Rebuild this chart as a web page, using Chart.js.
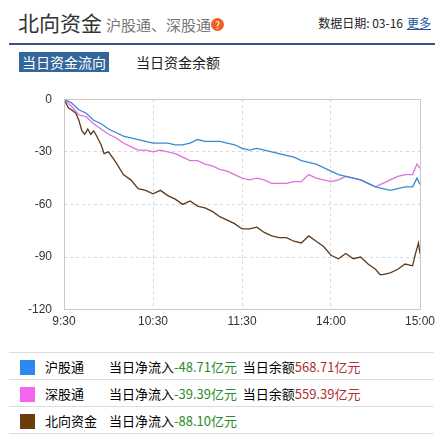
<!DOCTYPE html>
<html><head><meta charset="utf-8">
<script src="https://cdn.jsdelivr.net/npm/chart.js@4/dist/chart.umd.min.js"></script>
<style>
body{margin:0;background:#fff;font-family:"Noto Sans CJK SC",sans-serif;width:445px;height:434px;position:relative;overflow:hidden}
.t{position:absolute;left:18px;top:7px;font-size:21px;color:#333}
.t small{font-size:15px;color:#777;margin-left:4px}
.q{display:inline-block;width:13px;height:13px;border-radius:7px;background:#f06020;color:#fff;font-size:10px;line-height:13px;text-align:center;vertical-align:2px}
.d{position:absolute;right:14px;top:14px;font-size:12px;color:#222}
.d a{color:#2050a0;text-decoration:underline;margin-left:4px}
.line{position:absolute;left:9px;right:10px;top:43px;height:2px;background:#3d5184}
.tab1{position:absolute;left:19px;top:52px;background:#33669a;color:#fff;font-size:14px;padding:0 3px;line-height:20px}
.tab2{position:absolute;left:136px;top:52px;font-size:14px;color:#222;line-height:20px}
#wrap{position:absolute;left:10px;top:80px;width:430px;height:254px}
table{position:absolute;left:9px;top:352px;width:425px;border-collapse:collapse;font-size:13px}
td{border-top:1px solid #ddd;border-bottom:1px solid #ddd;height:26px;padding:0}
.sw{display:inline-block;width:15px;height:15px;vertical-align:middle;margin-left:11px}
.g{color:#2a8a2a}.r{color:#b03030}
</style></head><body>
<div class="t">北向资金<small>沪股通、深股通</small><span class="q">?</span></div>
<div class="d">数据日期: 03-16<a>更多</a></div>
<div class="line"></div>
<div class="tab1">当日资金流向</div>
<div class="tab2">当日资金余额</div>
<div id="wrap"><canvas id="c"></canvas></div>
<table>
<tr><td style="width:36px"><span class="sw" style="background:#2d89ef"></span></td><td style="width:64px">沪股通</td><td>当日净流入<span class="g">-48.71亿元</span>&nbsp;&nbsp;当日余额<span class="r">568.71亿元</span></td></tr>
<tr><td><span class="sw" style="background:#f564ee"></span></td><td>深股通</td><td>当日净流入<span class="g">-39.39亿元</span>&nbsp;&nbsp;当日余额<span class="r">559.39亿元</span></td></tr>
<tr><td><span class="sw" style="background:#6e3b0c"></span></td><td>北向资金</td><td>当日净流入<span class="g">-88.10亿元</span></td></tr>
</table>
<script>
const minutes = [0,5,10,15,20,25,30,35,40,45,50,55,60,65,70,75,80,85,90,95,100,105,110,115,120,125,130,135,140,145,150,155,160,165,170,175,180,185,190,195,200,205,210,215,220,225,230,235,238,240];
const shValues = [0,-2,-6,-8,-12,-14,-17,-19,-21,-22,-23,-24,-25,-25,-25,-26,-26,-25,-23,-24,-24,-24,-25,-26,-28,-29,-28,-29,-30,-31,-32,-33,-35,-36,-37,-39,-41,-43,-44,-45,-46,-48,-50,-51,-52,-51,-50,-50,-45,-48.71];
const szValues = [0,-4,-9,-10,-14,-17,-20,-22,-25,-27,-29,-29,-30,-29,-30,-31,-33,-35,-35,-37,-38,-40,-41,-43,-45,-46,-45,-46,-48,-48,-48,-47,-47,-43,-45,-46,-47,-46,-44,-45,-46,-48,-50,-48,-46,-44,-43,-43,-37,-39.39];
const nbMinutes = [0,3,5,8,10,12,14,16,18,20,22,25,27,30,35,40,45,50,55,60,65,70,75,80,85,90,95,100,105,110,115,120,125,130,135,140,145,150,155,160,165,170,175,180,185,190,195,200,205,210,213,215,220,225,230,235,237,239,240];
const nbValues = [0,-5,-6,-8,-12,-18,-20,-17,-20,-18,-21,-26,-31,-30,-36,-43,-46,-51,-52,-54,-52,-55,-57,-60,-58,-61,-62,-64,-67,-69,-71,-74,-74,-73,-76,-78,-79,-79,-81,-82,-78,-81,-84,-89,-91,-88,-91,-90,-94,-97,-100,-100,-99,-97,-94,-95,-88,-82,-88.1];
const tickLabels = {0:'9:30',60:'10:30',120:'11:30',180:'14:00',240:'15:00'};
const yTicks = [0,-30,-60,-90,-120];

const pts = (xs, ys) => xs.map((x, i) => ({x, y: ys[i]}));
const ds = (data, color) => ({data, borderColor: color, borderWidth: 1.3, pointRadius: 0, tension: 0, fill: false});

new Chart(document.getElementById('c'), {
  type: 'line',
  data: {datasets: [
    ds(pts(minutes, shValues), '#3a88d0'),
    ds(pts(minutes, szValues), '#e070e0'),
    ds(pts(nbMinutes, nbValues), '#5e3a1a')
  ]},
  options: {
    responsive: true, maintainAspectRatio: false, animation: false,
    plugins: {legend: {display: false}, tooltip: {enabled: false}},
    layout: {padding: {right: 4, top: 4, left: 6}},
    scales: {
      x: {type: 'linear', min: 0, max: 240,
        afterBuildTicks: a => { a.ticks = [0,60,120,180,240].map(v => ({value: v})); },
        ticks: {callback: v => tickLabels[v], color: '#333', font: {size: 12, family: 'Arial'}, maxRotation: 0, padding: 5},
        grid: {color: c => (c.tick && (c.tick.value === 0 || c.tick.value === 240)) ? 'rgba(0,0,0,0)' : '#d8d8d8', drawTicks: false},
        border: {display: false, dash: [3, 3]}
      },
      y: {min: -120, max: 0,
        afterBuildTicks: a => { a.ticks = yTicks.map(v => ({value: v})); },
        ticks: {color: '#333', font: {size: 12, family: 'Arial'}, padding: 12},
        grid: {color: c => (c.tick && (c.tick.value === 0 || c.tick.value === -120)) ? 'rgba(0,0,0,0)' : '#d8d8d8', drawTicks: false},
        border: {display: false, dash: [3, 3]}
      }
    }
  },
  plugins: [{id: 'box', afterDraw(ch) {
    const a = ch.chartArea, g = ch.ctx;
    g.save(); g.strokeStyle = '#c8c8c8'; g.lineWidth = 1;
    g.strokeRect(Math.round(a.left) + 0.5, Math.round(a.top) + 0.5, Math.round(a.width), Math.round(a.height));
    g.restore();
  }}]
});
</script>
</body></html>
